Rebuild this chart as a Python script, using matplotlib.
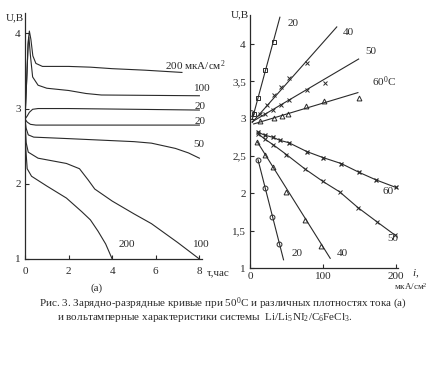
import matplotlib
matplotlib.use("Agg")
import matplotlib.pyplot as plt

plt.rcParams['font.family'] = ['Liberation Serif', 'DejaVu Serif']
plt.rcParams['mathtext.fontset'] = 'custom'
plt.rcParams['mathtext.rm'] = 'Liberation Serif'
plt.rcParams['mathtext.it'] = 'Liberation Serif:italic'

INK = "#2a2a2a"

##### data, panel (a): U vs time at 50 C

t_ch200 = [0.0, 0.08, 0.15, 0.2, 0.27, 0.36, 0.5, 0.8, 2.0, 3.0, 4.0, 5.5, 7.2]
u_ch200 = [2.86, 3.4, 3.9, 4.03, 3.92, 3.7, 3.6, 3.56, 3.56, 3.55, 3.53, 3.51, 3.48]

t_ch100 = [0.0, 0.08, 0.14, 0.18, 0.25, 0.35, 0.6, 1.0, 2.0, 2.8, 3.5, 8.0]
u_ch100 = [2.86, 3.4, 3.85, 3.95, 3.7, 3.42, 3.31, 3.27, 3.24, 3.2, 3.18, 3.17]

t_ch20 = [0.0, 0.1, 0.2, 0.35, 0.6, 2.0, 8.0]
u_ch20 = [2.86, 2.9, 2.95, 2.99, 3.0, 3.0, 2.98]

t_dis20 = [0.0, 0.1, 0.25, 0.5, 8.0]
u_dis20 = [2.86, 2.82, 2.79, 2.78, 2.78]

t_dis50 = [0.0, 0.05, 0.15, 0.4, 2.0, 3.5, 5.0, 5.8, 6.9, 7.5, 8.0]
u_dis50 = [2.86, 2.74, 2.65, 2.62, 2.6, 2.58, 2.56, 2.54, 2.47, 2.41, 2.34]

t_dis100 = [0.0, 0.05, 0.15, 0.6, 1.9, 2.5, 2.9, 3.2, 4.0, 5.0, 5.8, 7.0, 8.0]
u_dis100 = [2.86, 2.55, 2.42, 2.34, 2.27, 2.2, 2.05, 1.93, 1.77, 1.6, 1.47, 1.22, 1.0]

t_dis200 = [0.0, 0.04, 0.1, 0.3, 1.0, 1.9, 2.6, 3.0, 3.35, 3.7, 4.0]
u_dis200 = [2.86, 2.45, 2.2, 2.1, 1.97, 1.81, 1.63, 1.52, 1.37, 1.2, 1.0]

curves_a = [(t_ch200, u_ch200), (t_ch100, u_ch100), (t_ch20, u_ch20),
            (t_dis20, u_dis20), (t_dis50, u_dis50), (t_dis100, u_dis100),
            (t_dis200, u_dis200)]

# labels of panel (a): text, t, U (centre of the text)
labels_a = [("200 мкА/см$^2$", 6.4, 3.57), ("100", 7.75, 3.26), ("20", 7.8, 3.03),
            ("20", 7.8, 2.83), ("50", 7.7, 2.52), ("200", 4.3, 1.19), ("100", 7.7, 1.19)]

##### data, panel (b): U vs current density, charge (up) and discharge (down)

i_up20 = [5, 11, 21, 33]
u_up20 = [3.07, 3.28, 3.65, 4.03]
i_up20_line = [3, 41]
u_up20_line = [2.99, 4.36]

i_up40 = [14, 23, 33, 43, 54, 78]
u_up40 = [3.07, 3.18, 3.32, 3.43, 3.54, 3.75]
i_up40_line = [3, 119]
u_up40_line = [2.95, 4.23]

i_up50 = [20, 32, 43, 54, 78, 103]
u_up50 = [3.06, 3.12, 3.18, 3.25, 3.38, 3.48]
i_up50_line = [3, 149]
u_up50_line = [2.96, 3.8]

i_up60 = [14, 33, 44, 52, 77, 101, 149]
u_up60 = [2.97, 3.01, 3.04, 3.07, 3.17, 3.24, 3.28]
i_up60_line = [5, 148]
u_up60_line = [2.93, 3.35]

i_dn60 = [11, 20, 32, 41, 53, 78, 100, 125, 150, 173, 200]
u_dn60 = [2.82, 2.78, 2.75, 2.71, 2.68, 2.56, 2.48, 2.4, 2.28, 2.18, 2.08]

i_dn50 = [11, 20, 32, 50, 75, 100, 123, 148, 174, 199]
u_dn50 = [2.8, 2.73, 2.65, 2.52, 2.33, 2.16, 2.02, 1.81, 1.62, 1.44]

i_dn40 = [10, 20, 32, 50, 75, 98]
u_dn40 = [2.69, 2.51, 2.36, 2.02, 1.64, 1.29]
i_dn40_line = [10, 110]
u_dn40_line = [2.69, 1.13]

i_dn20 = [11, 20, 30, 40]
u_dn20 = [2.45, 2.07, 1.69, 1.32]
i_dn20_line = [11, 46]
u_dn20_line = [2.45, 1.11]

labels_b = [("20", 52, 4.28), ("40", 127, 4.16), ("50", 158, 3.9), ("60$^0$C", 167, 3.5),
            ("20", 57, 1.2), ("40", 119, 1.2), ("50", 189, 1.4), ("60", 182, 2.03)]


def style_axes(ax, pad):
    for s in ("top", "right"):
        ax.spines[s].set_visible(False)
    for s in ("left", "bottom"):
        ax.spines[s].set_color(INK)
        ax.spines[s].set_linewidth(0.9)
    ax.tick_params(direction="in", length=3, width=0.8, colors=INK, labelsize=8, pad=3)
    ax.tick_params(axis="x", pad=pad)


def ftext(x, y, s, **kw):
    """ figure text placed by pixel position of its centre """
    kw.setdefault("fontsize", 8)
    kw.setdefault("ha", "center")
    fig.text(x / 430, 1 - y / 369, s, va="center", color=INK, **kw)


fig = plt.figure(figsize=(4.3, 3.69), dpi=100)

# panel (a)
ax1 = fig.add_axes([25/430, 1 - 259/369, 177/430, 246/369])
for t, u in curves_a:
    ax1.plot(t, u, color=INK, lw=0.8)
for txt, x, y in labels_a:
    ax1.text(x, y, txt, fontsize=8, color=INK, va="center", clip_on=False)
ax1.set_xlim(0, 8.12)
ax1.set_ylim(1, 4.27)
ax1.set_xticks([0, 2, 4, 6, 8])
ax1.set_yticks([1, 2, 3, 4])
style_axes(ax1, 6)
ftext(15, 18, "U,B")
ftext(218, 273, "τ,час")
ftext(97, 288, "(a)")

# panel (b)
ax2 = fig.add_axes([250/430, 1 - 268/369, 148/430, 253/369])
kw = dict(color=INK, lw=0.8)
ax2.plot(i_up20_line, u_up20_line, **kw)
ax2.plot(i_up20, u_up20, "s", ms=3.5, mfc="none", mec=INK, mew=0.7)
ax2.plot(i_up40_line, u_up40_line, **kw)
ax2.plot(i_up40, u_up40, "x", ms=3, mec=INK, mew=0.7)
ax2.plot(i_up50_line, u_up50_line, **kw)
ax2.plot(i_up50, u_up50, "x", ms=3, mec=INK, mew=0.7)
ax2.plot(i_up60_line, u_up60_line, **kw)
ax2.plot(i_up60, u_up60, "^", ms=3.5, mfc="none", mec=INK, mew=0.7)
ax2.plot(i_dn60, u_dn60, marker="x", ms=3, mew=0.9, **kw)
ax2.plot(i_dn50, u_dn50, marker="x", ms=3, mew=0.7, **kw)
ax2.plot(i_dn40_line, u_dn40_line, **kw)
ax2.plot(i_dn40, u_dn40, "^", ms=3.5, mfc="none", mec=INK, mew=0.7)
ax2.plot(i_dn20_line, u_dn20_line, **kw)
ax2.plot(i_dn20, u_dn20, "o", ms=3.5, mfc="none", mec=INK, mew=0.7)
ax2.plot([2], [3.08], "o", ms=4, mfc="none", mec=INK, mew=0.7)
for txt, x, y in labels_b:
    ax2.text(x, y, txt, fontsize=8, color=INK, va="center", clip_on=False)
ax2.set_xlim(0, 203)
ax2.set_ylim(1, 4.39)
ax2.set_xticks([0, 100, 200])
ax2.set_yticks([1, 1.5, 2, 2.5, 3, 3.5, 4])
ax2.set_yticklabels(["1", "1,5", "2", "2,5", "3", "3,5", "4"])
style_axes(ax2, 3)
ftext(240, 15, "U,B")
ftext(416, 274, "$\\it{i}$,")
ftext(428, 287, "мкА/см$^2$", ha="right", fontsize=6.5)

# caption
ftext(223, 304, "Рис. 3. Зарядно-разрядные кривые при 50$^0$C и различных плотностях тока (а)")
ftext(205, 318, "и вольтамперные характеристики системы  Li/Li$_5$NI$_2$/C$_6$FeCl$_3$.")

fig.savefig("out.png", dpi=100)
